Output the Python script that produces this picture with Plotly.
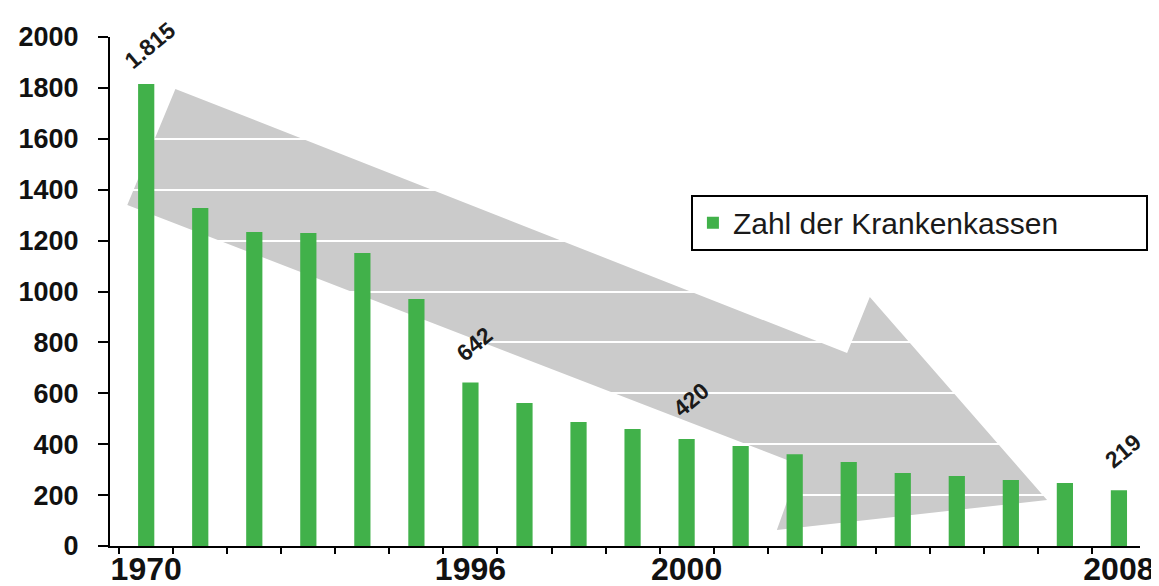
import plotly.graph_objects as go

# Zahl der Krankenkassen 1970 - 2008
jahre = ["1970", "1975", "1980", "1985", "1990", "1995", "1996", "1997", "1998", "1999",
         "2000", "2001", "2002", "2003", "2004", "2005", "2006", "2007", "2008"]
kassen = [1815, 1328, 1234, 1230, 1151, 971, 642, 562, 487, 460,
          420, 393, 361, 330, 287, 275, 259, 248, 219]
beschriftet = ["1970", "1996", "2000", "2008"]

gruen = "#41b14a"
grau = "#cbcbcb"
schrift = "Liberation Sans, Arial, sans-serif"

fig = go.Figure()
fig.add_trace(go.Bar(x=jahre, y=kassen, name="Zahl der Krankenkassen",
                     marker=dict(color=gruen, line=dict(width=0))))

# Zahlen über den markierten Balken (x als Kategorie-Index, sonst wird "1970" als Zahl gelesen)
for i, (j, k) in enumerate(zip(jahre, kassen)):
    if j in beschriftet:
        fig.add_annotation(x=i, y=k, text=f"{k:,}".replace(",", "."), showarrow=False,
                           textangle=-40, yshift=39, xshift=4,
                           font=dict(family=schrift, size=23, color="#1a1a1a", weight="bold"))

# grauer Pfeil im Hintergrund
fig.add_shape(type="path", xref="x", yref="y", layer="below",
              path="M 0.54 1796 L 12.97 758 L 13.39 978 L 16.67 181 L 11.67 63 L 12.1 318 L -0.35 1340 Z",
              fillcolor=grau, line=dict(width=0))

# die Seite hat 8px Rand, daher etwas kleiner
fig.update_layout(
    width=1151, height=578,
    margin=dict(l=102, r=19, t=29, b=40, autoexpand=False),
    paper_bgcolor="white", plot_bgcolor="white",
    bargap=0.7,
    showlegend=True,
    legend=dict(x=0.564, y=0.69, xanchor="left", yanchor="top", orientation="h",
                bordercolor="black", borderwidth=2, bgcolor="white",
                entrywidth=408,
                font=dict(family=schrift, size=30, color="#1a1a1a")),
    font=dict(family=schrift),
)
fig.update_xaxes(type="category", range=[-0.67, 18.39], automargin=False,
                 tickmode="array", tickvals=jahre, tickangle=0,
                 ticktext=[j if j in beschriftet else "" for j in jahre],
                 tickson="boundaries", ticks="outside", ticklen=6, tickwidth=2, tickcolor="black",
                 showline=True, linecolor="black", linewidth=2, showgrid=False,
                 ticklabelstandoff=-6,
                 tickfont=dict(family=schrift, size=32, color="#111111", weight="bold"))
fig.update_yaxes(range=[0, 2000], dtick=200, ticks="outside", ticklen=10, tickwidth=2,
                 tickcolor="black", showline=True, linecolor="black", linewidth=2,
                 showgrid=True, gridcolor="white", gridwidth=2, zeroline=False,
                 ticklabelstandoff=14, automargin=False,
                 tickfont=dict(family=schrift, size=27, color="#111111", weight="bold"))

fig.write_html("out.html")
